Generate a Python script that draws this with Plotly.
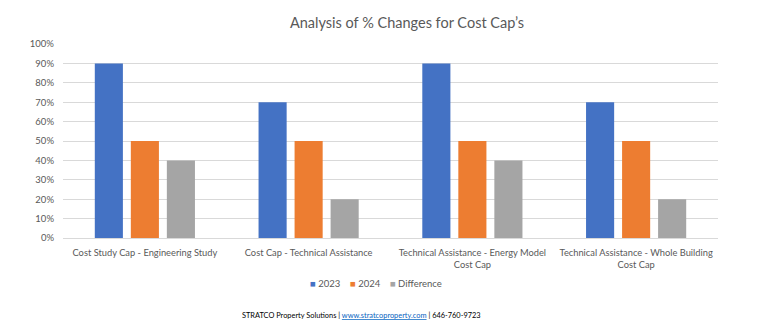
import plotly.graph_objects as go

categories = [
    "Cost Study Cap - Engineering Study",
    "Cost Cap - Technical Assistance",
    "Technical Assistance - Energy Model<br>Cost Cap",
    "Technical Assistance - Whole Building<br>Cost Cap",
]
series_names = ["2023", "2024", "Difference"]
series_colors = ["#4472C4", "#ED7D31", "#A5A5A5"]
values_2023 = [0.90, 0.70, 0.90, 0.70]
values_2024 = [0.50, 0.50, 0.50, 0.50]
values_diff = [0.40, 0.20, 0.40, 0.20]

FONT = "Lato, 'Open Sans', sans-serif"
TEXT = "#595959"

fig = go.Figure()
for name, vals, color in zip(series_names, [values_2023, values_2024, values_diff], series_colors):
    fig.add_trace(go.Bar(x=categories, y=vals, name=name, marker_color=color,
                         marker_line_width=0, showlegend=False))

fig.update_layout(
    width=780, height=334,
    margin=dict(l=63, r=62, t=44, b=96),
    paper_bgcolor="white", plot_bgcolor="white",
    font=dict(family=FONT, color=TEXT, size=10),
    title=dict(text="Analysis of % Changes for Cost Cap\u2019s", xref="container",
               x=407 / 780, xanchor="center", y=0.93, yanchor="middle",
               font=dict(size=14.5, color=TEXT, family=FONT)),
    barmode="group", bargap=0.34, bargroupgap=0.22,
    xaxis=dict(showline=True, linecolor="#D9D9D9", linewidth=1, ticks="",
               tickfont=dict(size=9.3, color=TEXT), tickangle=0, ticklabelstandoff=6),
    yaxis=dict(range=[0, 1.0], dtick=0.1, tickformat=".0%", showgrid=True,
               gridcolor="#D9D9D9", gridwidth=1, zeroline=False, showline=False,
               ticks="", ticklabelstandoff=8, tickfont=dict(size=9.5, color=TEXT)),
)

# Compact legend row: coloured square markers followed by series names
legend_text = "&nbsp;&nbsp;&nbsp;&nbsp;".join(
    f"<span style='color:{c}'>\u25A0</span> {n}" for n, c in zip(series_names, series_colors)
)
fig.add_annotation(
    xref="paper", yref="paper", x=(376 - 63) / 655, y=(238 - 283) / 194,
    xanchor="center", yanchor="middle", showarrow=False,
    text=legend_text, font=dict(size=9.5, color=TEXT, family=FONT),
)

fig.add_annotation(
    xref="paper", yref="paper", x=(361 - 63) / 655, y=(238 - 315) / 194,
    xanchor="center", yanchor="middle", showarrow=False,
    text=("STRATCO Property Solutions | "
          "<span style='color:#0563C1'><u>www.stratcoproperty.com</u></span>"
          " | 646-760-9723"),
    font=dict(size=7.4, color="#000000", family=FONT),
)

fig.write_html("out.html")
